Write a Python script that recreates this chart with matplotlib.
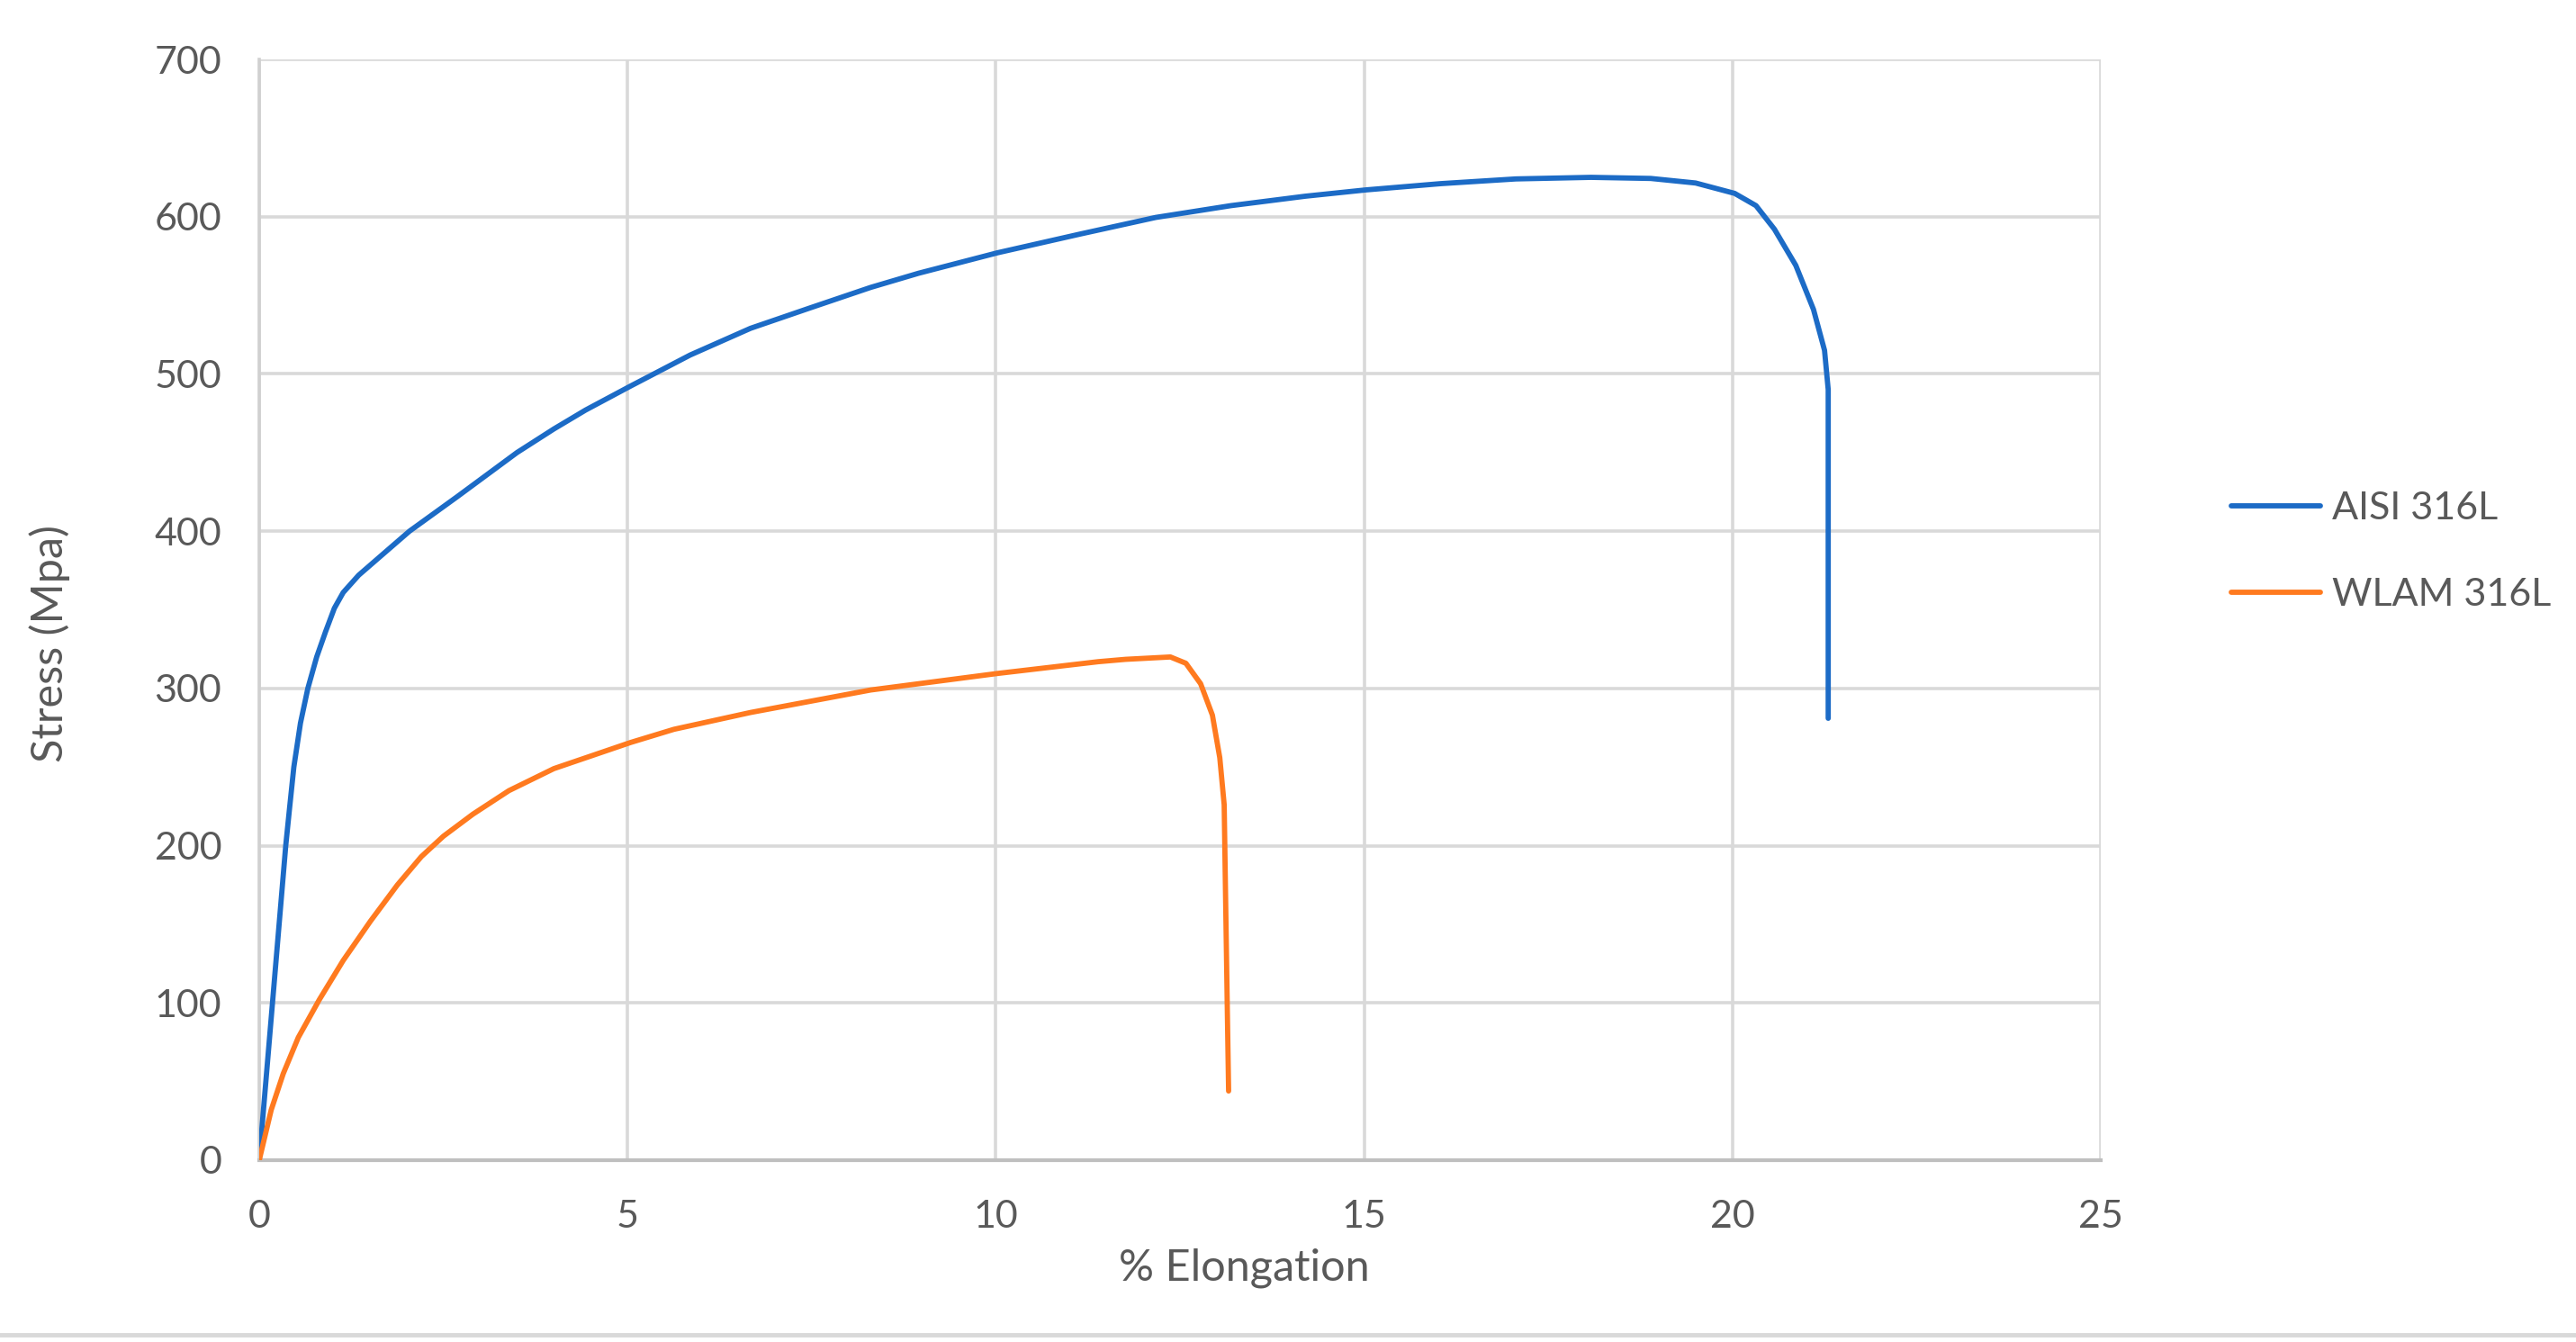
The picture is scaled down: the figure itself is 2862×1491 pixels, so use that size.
import matplotlib
matplotlib.use("Agg")
import matplotlib.pyplot as plt
from matplotlib.lines import Line2D

plt.rcParams['font.family'] = ['Lato', 'DejaVu Sans']

# ---- data ----
aisi_x = [0, 0.09, 0.18, 0.27, 0.36, 0.41, 0.47, 0.56, 0.66, 0.78, 0.90, 1.02, 1.14, 1.35,
          1.67, 2.04, 2.69, 3.5, 4.0, 4.43, 5.03, 5.85, 6.67, 7.48, 8.30, 8.95, 10.02, 11.15,
          12.17, 13.19, 14.2, 15.02, 16.04, 17.06, 18.08, 18.89, 19.5, 20.03, 20.32, 20.57,
          20.86, 21.1, 21.25, 21.3, 21.3]
aisi_y = [0, 50, 100, 150, 200, 223, 250, 278, 300, 320, 336, 351, 361, 372,
          385, 400, 422, 450, 465, 477, 492, 512, 529, 542, 555, 564, 577, 589,
          599.5, 607, 613, 617, 621, 624, 625, 624.3, 621.4, 614.8, 607, 592,
          569, 541, 515, 490, 281]

wlam_x = [0, 0.163, 0.326, 0.53, 0.815, 1.14, 1.51, 1.875, 2.2, 2.5, 2.9, 3.39, 4.0,
          5.04, 5.63, 6.67, 8.30, 10.02, 11.39, 11.76, 12.37, 12.58, 12.78, 12.94, 13.04,
          13.1, 13.12, 13.14, 13.16]
wlam_y = [0, 32, 55, 78, 102, 127, 152, 175, 193, 206, 220, 235, 249,
          265.6, 274, 284.7, 299, 309.5, 317, 318.5, 320, 316, 303, 283, 256,
          226, 164, 103, 44]

series_names = ["AISI 316L", "WLAM 316L"]
x_ticks = [0, 5, 10, 15, 20, 25]
y_ticks = [0, 100, 200, 300, 400, 500, 600, 700]
x_label = "% Elongation"
y_label = "Stress (Mpa)"

# ---- styling ----
BLUE = "#1C6BC6"
ORANGE = "#FF7A1F"
TEXT = "#595959"
GRID = "#D9D9D9"

W, H = 2862, 1491
fig = plt.figure(figsize=(W / 100, H / 100), dpi=100)
ax = fig.add_axes([288 / W, 1 - 1289 / H, (2334 - 288) / W, (1289 - 66) / H])

ax.plot(aisi_x, aisi_y, color=BLUE, lw=4.2, solid_joinstyle='round', solid_capstyle='round',
        label=series_names[0], zorder=3)
ax.plot(wlam_x, wlam_y, color=ORANGE, lw=4.2, solid_joinstyle='round', solid_capstyle='round',
        label=series_names[1], zorder=3)

ax.set_xlim(0, 25)
ax.set_ylim(0, 700)
ax.set_xticks(x_ticks)
ax.set_yticks(y_ticks)
ax.grid(True, color=GRID, lw=2.6, zorder=0)
ax.set_axisbelow(True)

for s in ['top', 'right']:
    ax.spines[s].set_visible(False)
ax.spines['left'].set_color("#D0D0D0")
ax.spines['left'].set_linewidth(2.6)
ax.spines['bottom'].set_color("#BFBFBF")
ax.spines['bottom'].set_linewidth(3.0)

ax.tick_params(axis='both', length=0, labelsize=31, labelcolor=TEXT)
ax.tick_params(axis='y', pad=30)
ax.tick_params(axis='x', pad=32)

ax.set_xlabel(x_label, fontsize=35, color=TEXT)
ax.set_ylabel(y_label, fontsize=35, color=TEXT)
ax.xaxis.set_label_coords(0.535, -0.098)
ax.xaxis.label.set_va('center')
ax.yaxis.set_label_coords(-0.114, 0.469)
ax.yaxis.label.set_va('center')

leg = fig.legend(loc='center left', bbox_to_anchor=(2479 / W, 1 - 613 / H), frameon=False,
                 fontsize=31, handlelength=2.3, handletextpad=0.3, labelspacing=1.33,
                 borderpad=0, borderaxespad=0)
for t in leg.get_texts():
    t.set_color(TEXT)
for l in leg.get_lines():
    l.set_linewidth(4.2)

fig.add_artist(Line2D([0, 1], [1 - 1483 / H, 1 - 1483 / H], transform=fig.transFigure,
                      color="#D9D9D9", lw=3.5))

fig.savefig("out.png", dpi=100, facecolor="white")
